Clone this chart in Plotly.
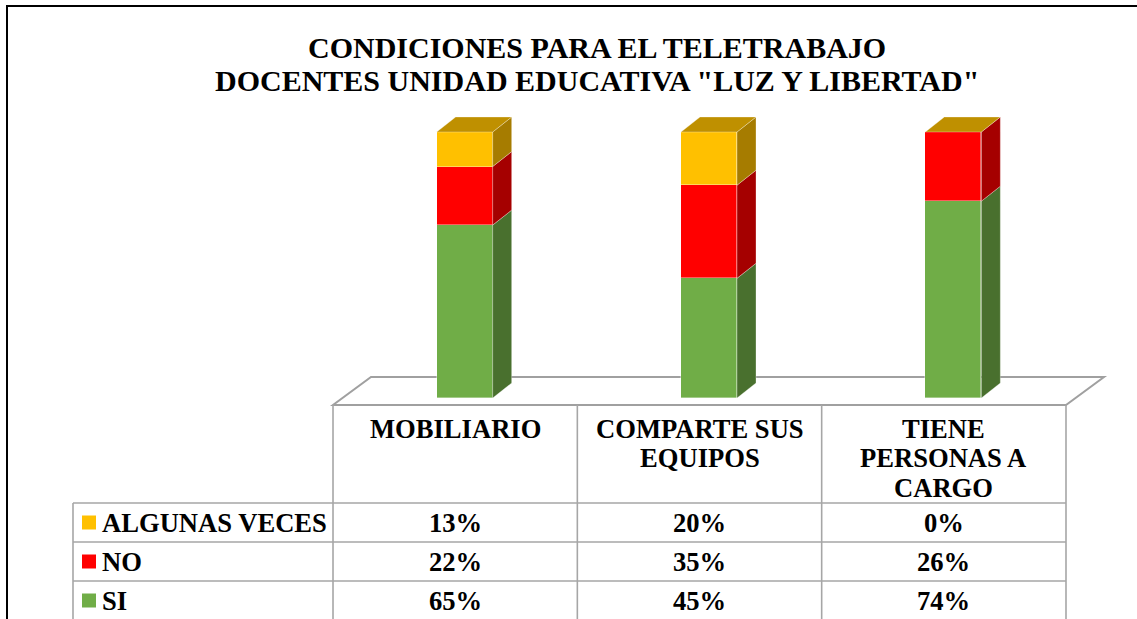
import plotly.graph_objects as go

# ---------------- data ----------------
categories = ["MOBILIARIO", "COMPARTE SUS<br>EQUIPOS", "TIENE<br>PERSONAS A<br>CARGO"]
series_names = ["SI", "NO", "ALGUNAS VECES"]
si_values = [65, 45, 74]
no_values = [22, 35, 26]
algunas_values = [13, 20, 0]
title_lines = ["CONDICIONES PARA EL TELETRABAJO", 'DOCENTES UNIDAD EDUCATIVA "LUZ Y LIBERTAD"']

series_values = [si_values, no_values, algunas_values]
front_colors = ["#70AD47", "#FF0000", "#FFC000"]
side_colors = ["#49702E", "#A50000", "#A67C00"]
top_colors = ["#548235", "#BF0000", "#BF9000"]

# ---------------- geometry (styles) ----------------
W, H = 1137, 619
PX_PER_CAT = 244.33
CAT0_PX = 455.17      # pixel of category 0 centre
Y0_PX = 398.0         # pixel of value 0
PX_PER_PCT = 2.66

xr = [(0 - CAT0_PX) / PX_PER_CAT, (W - CAT0_PX) / PX_PER_CAT]
yr = [(Y0_PX - H) / PX_PER_PCT, Y0_PX / PX_PER_PCT]

def dx_px(p):
    return p / PX_PER_CAT

def dy_px(p):
    return p / PX_PER_PCT

def px_x(p):
    return p / W

def px_y(p):
    return 1 - p / H

FONT = "Liberation Serif"
TITLE_SIZE = 30
TEXT_SIZE = 26.6

bar_off = dx_px(9.5)
bar_w = dx_px(56)
depth_x = dx_px(19)
depth_y = dy_px(15)

fig = go.Figure()

# front faces
for s, name in enumerate(series_names):
    fig.add_trace(go.Bar(
        x=[i + bar_off for i in range(len(categories))],
        y=series_values[s],
        width=bar_w,
        name=name,
        marker=dict(color=front_colors[s], line=dict(width=0.6, color="rgba(255,255,255,0.6)")),
        showlegend=False,
        hoverinfo="skip",
    ))

# side faces and top face
last = len(series_names) - 1
for i in range(len(categories)):
    base = 0
    xl = i + bar_off - bar_w / 2
    xrr = i + bar_off + bar_w / 2
    for s in range(len(series_names)):
        v = series_values[s][i]
        y0, y1 = base, base + v
        if v > 0:
            fig.add_trace(go.Scatter(
                x=[xrr, xrr + depth_x, xrr + depth_x, xrr, xrr],
                y=[y0, y0 + depth_y, y1 + depth_y, y1, y0],
                fill="toself", fillcolor=side_colors[s], mode="lines",
                line=dict(width=0.6, color="rgba(255,255,255,0.5)"),
                showlegend=False, hoverinfo="skip"))
        if s == last:
            fig.add_trace(go.Scatter(
                x=[xl, xl + depth_x, xrr + depth_x, xrr, xl],
                y=[y1, y1 + depth_y, y1 + depth_y, y1, y1],
                fill="toself", fillcolor=top_colors[s], mode="lines",
                line=dict(width=0.6, color="rgba(255,255,255,0.5)"),
                showlegend=False, hoverinfo="skip"))
        base = y1

shapes = []
n = len(categories)
# floor
fy_front = dy_px(Y0_PX - 405)
fy_back = dy_px(Y0_PX - 377)
fdx = dx_px(38)
shapes.append(dict(
    type="path", xref="x", yref="y", layer="below",
    path=f"M {-0.5},{fy_front} L {n-0.5},{fy_front} L {n-0.5+fdx},{fy_back} L {-0.5+fdx},{fy_back} Z",
    line=dict(color="#A0A0A0", width=2), fillcolor="white"))

GRID = "#A6A6A6"
# data table grid
for k in range(n + 1):
    shapes.append(dict(type="line", xref="x", yref="paper",
                       x0=k - 0.5, x1=k - 0.5, y0=px_y(405), y1=0,
                       line=dict(color=GRID, width=1.6)))
shapes.append(dict(type="line", xref="paper", yref="paper",
                   x0=px_x(73), x1=px_x(73), y0=px_y(503), y1=0,
                   line=dict(color=GRID, width=1.6)))
row_tops = [503, 542, 581]
for rt in row_tops:
    shapes.append(dict(type="line", xref="paper", yref="paper",
                       x0=px_x(73), x1=px_x(1066), y0=px_y(rt), y1=px_y(rt),
                       line=dict(color=GRID, width=1.6)))

# outer frame
shapes.append(dict(type="path", xref="paper", yref="paper",
                   path=f"M {px_x(7)},-0.01 L {px_x(7)},{px_y(6)} L 1.01,{px_y(6)}",
                   line=dict(color="black", width=2)))

annotations = []
# title
for k, t in enumerate(title_lines):
    annotations.append(dict(text=f"<b>{t}</b>", xref="paper", yref="paper",
                            x=px_x(597), y=px_y(47 + 33 * k), xanchor="center", yanchor="middle",
                            showarrow=False, font=dict(family=FONT, size=TITLE_SIZE, color="black")))
# category headers
for i, c in enumerate(categories):
    for j, line in enumerate(c.split("<br>")):
        annotations.append(dict(text=f"<b>{line}</b>", xref="x", yref="paper",
                                x=i, y=px_y(428.5 + 29.5 * j), xanchor="center", yanchor="middle",
                                showarrow=False, font=dict(family=FONT, size=TEXT_SIZE, color="black")))
# rows with legend keys (top row = last series)
row_order = [2, 1, 0]
for r, s in enumerate(row_order):
    cy = row_tops[r] + 19.5
    shapes.append(dict(type="rect", xref="paper", yref="paper",
                       x0=px_x(82), x1=px_x(96), y0=px_y(cy - 7), y1=px_y(cy + 7),
                       fillcolor=front_colors[s], line=dict(width=0)))
    annotations.append(dict(text=f"<b>{series_names[s]}</b>", xref="paper", yref="paper",
                            x=px_x(100), y=px_y(cy), xanchor="left", yanchor="middle",
                            showarrow=False, font=dict(family=FONT, size=TEXT_SIZE, color="black")))
    for i in range(n):
        annotations.append(dict(text=f"<b>{series_values[s][i]}%</b>", xref="x", yref="paper",
                                x=i, y=px_y(cy), xanchor="center", yanchor="middle",
                                showarrow=False, font=dict(family=FONT, size=TEXT_SIZE, color="black")))

fig.update_layout(
    width=W, height=H, autosize=False,
    margin=dict(l=0, r=0, t=0, b=0, pad=0),
    paper_bgcolor="white", plot_bgcolor="white",
    barmode="stack", bargap=0,
    xaxis=dict(range=xr, visible=False, fixedrange=True),
    yaxis=dict(range=yr, visible=False, fixedrange=True),
    shapes=shapes, annotations=annotations,
    showlegend=False,
)

fig.write_html("out.html", config={"displayModeBar": False},
               post_script="document.body.style.margin='0px';document.body.style.overflow='hidden';")
